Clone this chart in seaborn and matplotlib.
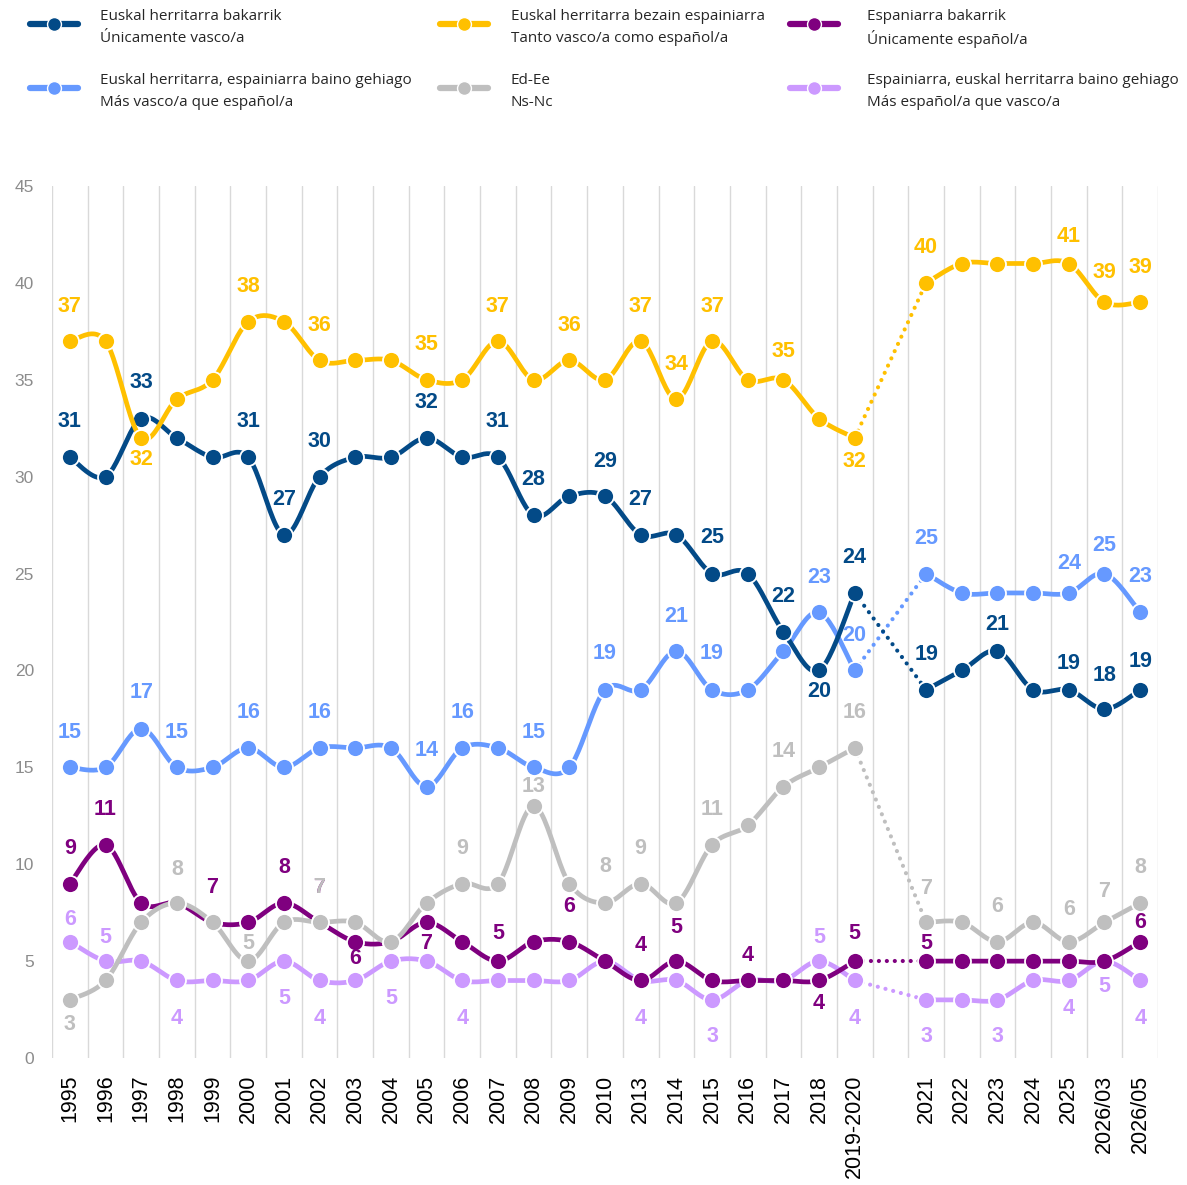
import numpy as np
import pandas as pd
import matplotlib
matplotlib.use("Agg")
import matplotlib.pyplot as plt
from matplotlib.lines import Line2D
import seaborn as sns

# ---------------------------------------------------------------- data
categories = ["1995", "1996", "1997", "1998", "1999", "2000", "2001", "2002",
              "2003", "2004", "2005", "2006", "2007", "2008", "2009", "2010",
              "2013", "2014", "2015", "2016", "2017", "2018", "2019-2020", "",
              "2021", "2022", "2023", "2024", "2025", "2026/03", "2026/05"]

NA = np.nan
unicamente_vasco = [31, 30, 33, 32, 31, 31, 27, 30, 31, 31, 32, 31, 31, 28, 29, 29,
                    27, 27, 25, 25, 22, 20, 24, NA, 19, 20, 21, 19, 19, 18, 19]
tanto_vasco_como_espanol = [37, 37, 32, 34, 35, 38, 38, 36, 36, 36, 35, 35, 37, 35, 36, 35,
                            37, 34, 37, 35, 35, 33, 32, NA, 40, 41, 41, 41, 41, 39, 39]
unicamente_espanol = [9, 11, 8, 8, 7, 7, 8, 7, 6, 6, 7, 6, 5, 6, 6, 5,
                      4, 5, 4, 4, 4, 4, 5, NA, 5, 5, 5, 5, 5, 5, 6]
mas_vasco = [15, 15, 17, 15, 15, 16, 15, 16, 16, 16, 14, 16, 16, 15, 15, 19,
             19, 21, 19, 19, 21, 23, 20, NA, 25, 24, 24, 24, 24, 25, 23]
ns_nc = [3, 4, 7, 8, 7, 5, 7, 7, 7, 6, 8, 9, 9, 13, 9, 8,
         9, 8, 11, 12, 14, 15, 16, NA, 7, 7, 6, 7, 6, 7, 8]
mas_espanol = [6, 5, 5, 4, 4, 4, 5, 4, 4, 5, 5, 4, 4, 4, 4, 5,
               4, 4, 3, 4, 4, 5, 4, NA, 3, 3, 3, 4, 4, 5, 4]

legend_eu = ["Euskal herritarra bakarrik", "Euskal herritarra bezain espainiarra",
             "Espaniarra bakarrik", "Euskal herritarra, espainiarra baino gehiago",
             "Ed-Ee", "Espainiarra, euskal herritarra baino gehiago"]
legend_es = ["Únicamente vasco/a", "Tanto vasco/a como español/a",
             "Únicamente español/a", "Más vasco/a que español/a",
             "Ns-Nc", "Más español/a que vasco/a"]

# which points carry a value label, and the label's vertical shift in pixels
# (positive = above the marker, negative = below)
labels_vasco = {0: 36, 2: 36, 5: 36, 6: 35, 7: 35, 10: 35, 12: 36, 13: 36, 15: 35,
                16: 35, 18: 36, 20: 35, 21: -21, 22: 35, 24: 35, 26: 27, 28: 26,
                29: 34, 30: 28}
labels_tanto = {0: 35, 2: -22, 5: 35, 7: 35, 10: 35, 12: 35, 14: 35, 16: 35, 17: 35,
                18: 35, 20: 28, 22: -24, 24: 35, 28: 27, 29: 30, 30: 35}
labels_esp = {0: 35, 1: 35, 4: 35, 6: 35, 7: 35, 8: -17, 10: -21, 12: 28, 14: 35,
              16: 35, 17: 34, 19: 25, 21: -23, 22: 28, 24: 18, 30: 19}
labels_masvasco = {0: 35, 2: 36, 3: 35, 5: 35, 7: 35, 10: 36, 11: 35, 13: 35, 15: 36,
                   17: 35, 18: 36, 21: 35, 22: 35, 24: 35, 28: 29, 29: 28, 30: 36}
labels_nsnc = {0: -25, 3: 33, 5: 18, 7: 35, 11: 35, 13: 20, 15: 36, 16: 35, 18: 35,
               20: 35, 22: 35, 24: 34, 26: 35, 28: 32, 29: 31, 30: 35}
labels_masesp = {0: 22, 1: 24, 3: -38, 6: -37, 7: -38, 9: -37, 11: -38, 16: -38,
                 18: -37, 21: 24, 22: -38, 24: -37, 26: -37, 28: -28, 29: -25, 30: -38}

series = [
    # values, colour, labels, z-order
    (unicamente_vasco, "#034A87", labels_vasco, 6),
    (tanto_vasco_como_espanol, "#FFC000", labels_tanto, 7),
    (unicamente_espanol, "#7F007F", labels_esp, 4),
    (mas_vasco, "#6699FF", labels_masvasco, 5),
    (ns_nc, "#BFBFBF", labels_nsnc, 4.5),
    (mas_espanol, "#CC99FF", labels_masesp, 3),
]
legend_order = [0, 1, 2, 3, 4, 5]

# ---------------------------------------------------------------- helpers
def smooth_curve(xs, ys, n=24):
    """Bezier smoothing through the points (Catmull-Rom style control points)."""
    pts = np.column_stack([xs, ys]).astype(float)
    P = np.vstack([pts[0], pts, pts[-1]])
    t = np.linspace(0, 1, n)[:, None]
    segs = []
    for i in range(len(pts) - 1):
        p0, p1, p2, p3 = P[i], P[i + 1], P[i + 2], P[i + 3]
        c1 = p1 + (p2 - p0) / 6.0
        c2 = p2 - (p3 - p1) / 6.0
        seg = ((1 - t) ** 3) * p1 + 3 * ((1 - t) ** 2) * t * c1 \
            + 3 * (1 - t) * (t ** 2) * c2 + (t ** 3) * p2
        segs.append(seg if i == 0 else seg[1:])
    return np.vstack(segs)


def runs_of_valid(v):
    """Index runs of consecutive non-missing values."""
    runs, cur = [], []
    for i, val in enumerate(v):
        if np.isnan(val):
            if cur:
                runs.append(cur)
            cur = []
        else:
            cur.append(i)
    if cur:
        runs.append(cur)
    return runs


# ---------------------------------------------------------------- figure
sns.set_style("white")
plt.rcParams["font.family"] = ["Liberation Sans", "DejaVu Sans"]

W, H = 1187, 1185
fig = plt.figure(figsize=(W / 100, H / 100), dpi=100)
ax = fig.add_axes([52 / W, 1 - 1058 / H, 1106 / W, 872 / H])

x_all = np.arange(len(categories))
LW = 3.4
DOT = (0, (0.01, 1.9))

for vals, color, labs, z in series:
    v = np.asarray(vals, dtype=float)
    runs = runs_of_valid(v)
    # each survey period is a smoothed line of its own
    for run in runs:
        curve = smooth_curve(x_all[run], v[run])
        df = pd.DataFrame({"x": curve[:, 0], "y": curve[:, 1]})
        sns.lineplot(data=df, x="x", y="y", ax=ax, color=color, lw=LW,
                     sort=False, estimator=None, zorder=z,
                     solid_capstyle="round", solid_joinstyle="round")
    # dotted bridge across the empty slot between periods
    for a, b in zip(runs[:-1], runs[1:]):
        i0, i1 = a[-1], b[0]
        df = pd.DataFrame({"x": [x_all[i0], x_all[i1]], "y": [v[i0], v[i1]]})
        sns.lineplot(data=df, x="x", y="y", ax=ax, color=color, lw=3.0,
                     sort=False, estimator=None, zorder=z, linestyle=DOT,
                     dash_capstyle="round")
    ok = ~np.isnan(v)
    pts_df = pd.DataFrame({"x": x_all[ok], "y": v[ok]})
    sns.scatterplot(data=pts_df, x="x", y="y", ax=ax, s=150, color=color,
                    edgecolor="white", linewidth=1.3, zorder=z + 0.2, legend=False)
    for i, dy in labs.items():
        ax.annotate(f"{v[i]:.0f}", (x_all[i], v[i]), xytext=(0, dy * 0.72),
                    textcoords="offset points", ha="center", va="center",
                    fontsize=15.5, fontweight="bold", color=color, zorder=20)

# axes styling
ax.set_xlim(-0.5, len(categories) - 0.5)
ax.set_ylim(0, 45)
ax.set_xticks(x_all)
ax.set_xticklabels(categories, rotation=90, fontsize=15.5, color="black")
ax.set_xticks(np.arange(-0.5, len(categories), 1), minor=True)
ax.set_yticks(np.arange(0, 46, 5))
ax.tick_params(axis="y", labelsize=12.5, labelcolor="#8C8C8C", pad=13)
ax.tick_params(axis="x", pad=12)
ax.tick_params(which="both", length=0)
ax.grid(False)
ax.grid(which="minor", axis="x", color="#D9D9D9", lw=1.0)
ax.set_axisbelow(True)
for sp in ax.spines.values():
    sp.set_visible(False)
ax.set_xlabel("")
ax.set_ylabel("")

# legend: three columns, two rows, each label in Basque and Spanish
col_handle_x = [30, 440, 790]
col_text_x = [100, 511, 867]
row_y = [16, 80]
for k, si in enumerate(legend_order):
    color = series[si][1]
    col, row = k % 3, k // 3
    hx, ty = col_handle_x[col], row_y[row]
    hy = 1 - (ty + 8) / H
    fig.add_artist(Line2D([hx / W, (hx + 48) / W], [hy, hy], color=color,
                          lw=4.5, transform=fig.transFigure))
    fig.add_artist(Line2D([(hx + 24) / W], [hy], color=color, marker="o",
                          markersize=10, markeredgecolor="white",
                          markeredgewidth=1.0, transform=fig.transFigure))
    fig.text(col_text_x[col] / W, 1 - ty / H, legend_eu[si], fontsize=11,
             color="#262626", va="center", ha="left", family=["Open Sans", "DejaVu Sans"])
    fig.text(col_text_x[col] / W, 1 - (ty + 23) / H, legend_es[si], fontsize=11,
             color="#262626", va="center", ha="left", family=["Open Sans", "DejaVu Sans"])

fig.savefig("out.png", dpi=100, facecolor="white")
